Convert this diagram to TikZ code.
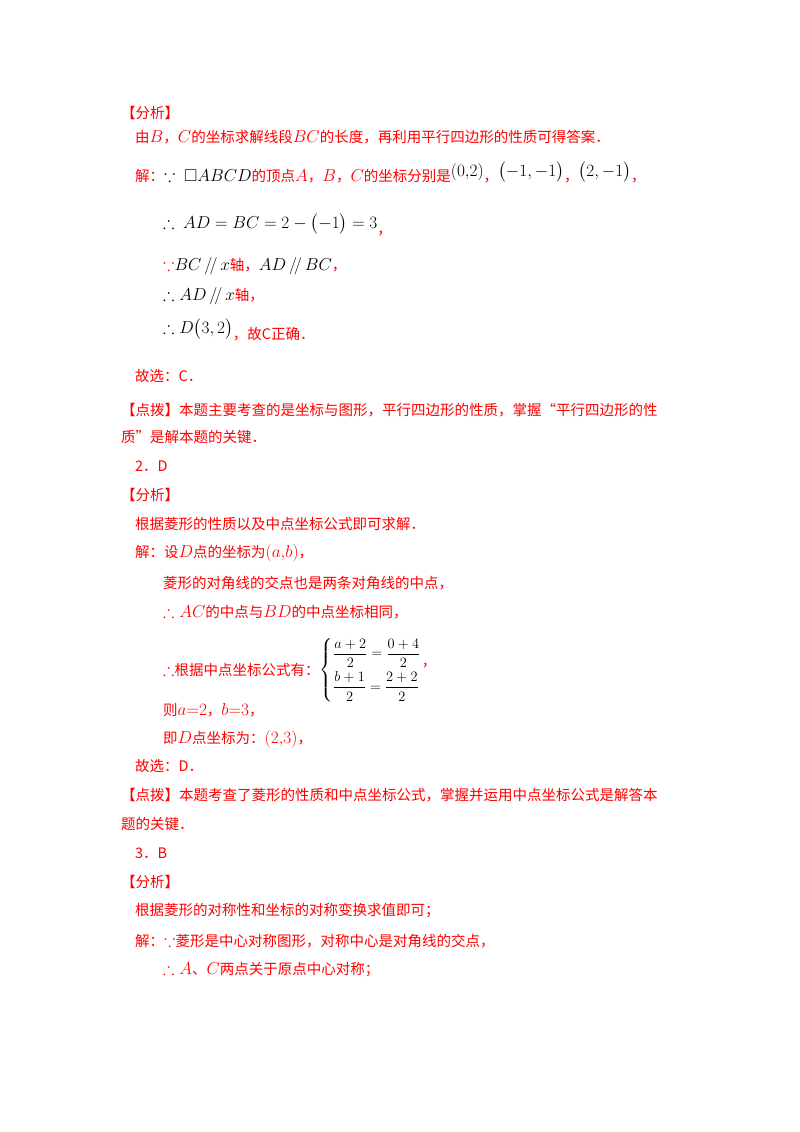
\documentclass[tikz,border=0pt]{standalone}
\usepackage{amsmath,amssymb}
\usepackage{fontspec}
\setmainfont{Noto Sans CJK SC}
\definecolor{rd}{RGB}{255,0,0}
\newcommand{\bk}[1]{\textcolor{black}{#1}}
\newcommand{\mm}[1]{{\fontsize{17}{17}\selectfont$#1$}}
\begin{document}
\begin{tikzpicture}[x=1pt,y=-1pt,
  ln/.style={anchor=west,inner sep=0pt,text=rd,font=\fontsize{14.5}{17}\selectfont}]
\useasboundingbox (0,0) rectangle (800,1132);
\node[ln] (l1) at (121,113) {【分析】};
\node[ln] (l2) at (135,137) {由\mm{B}，\mm{C}的坐标求解线段\mm{BC}的长度，再利用平行四边形的性质可得答案．};
\node[ln] (l3) at (135,172) {解：\bk{\mm{\because\ \square ABCD}}的顶点\mm{A}，\mm{B}，\mm{C}的坐标分别是\raisebox{5pt}{\bk{\mm{(0{,}2)}}}，\raisebox{5pt}{\bk{\mm{\bigl(-1,-1\bigr)}}}，\raisebox{5pt}{\bk{\mm{\bigl(2,-1\bigr)}}}，};
\node[ln] (l4) at (163,225) {\bk{\mm{\therefore\ AD=BC=2-\bigl(-1\bigr)=3}}\raisebox{-6pt}{，}};
\node[ln] (l5) at (163,266) {\mm{\because}\bk{\mm{BC\,/\!/\,x}}轴，\bk{\mm{AD\,/\!/\,BC}}，};
\node[ln] (l6) at (163,296) {\bk{\mm{\therefore AD\,/\!/\,x}}轴，};
\node[ln] (l7) at (163,330) {\bk{\mm{\therefore D\bigl(3,2\bigr)}}\raisebox{-6pt}{，故C正确．}};
\node[ln] (l8) at (135,376) {故选：C．};
\node[ln] (l9) at (121,410) {【点拨】本题主要考查的是坐标与图形，平行四边形的性质，掌握“平行四边形的性};
\node[ln] (l10) at (121,437) {质”是解本题的关键．};
\node[ln] (l11) at (135,466) {2．D};
\node[ln] (l12) at (121,495) {【分析】};
\node[ln] (l13) at (135,524) {根据菱形的性质以及中点坐标公式即可求解．};
\node[ln] (l14) at (135,553) {解：设\mm{D}点的坐标为\mm{(a{,}b)}，};
\node[ln] (l15) at (163,583) {菱形的对角线的交点也是两条对角线的中点，};
\node[ln] (l16) at (163,612) {\mm{\therefore AC}的中点与\mm{BD}的中点坐标相同，};
\node[ln] (l17) at (163,670) {\mm{\therefore}根据中点坐标公式有：};
\node[anchor=west,inner sep=0pt] (sys) at (l17.east) {\fontsize{15}{15}\selectfont$\left\{\begin{array}{@{}l@{}}\dfrac{a+2}{2}=\dfrac{0+4}{2}\\[9pt]\dfrac{b+1}{2}=\dfrac{2+2}{2}\end{array}\right.$};
\node[ln,anchor=west] (cm) at ([yshift=4pt]sys.east) {，};
\node[ln] (l18) at (163,710) {则\mm{a{=}2}，\mm{b{=}3}，};
\node[ln] (l19) at (163,739) {即\mm{D}点坐标为：\mm{(2{,}3)}，};
\node[ln] (l20) at (135,766) {故选：D．};
\node[ln] (l21) at (121,795) {【点拨】本题考查了菱形的性质和中点坐标公式，掌握并运用中点坐标公式是解答本};
\node[ln] (l22) at (121,824) {题的关键．};
\node[ln] (l23) at (135,853) {3．B};
\node[ln] (l24) at (121,882) {【分析】};
\node[ln] (l25) at (135,911) {根据菱形的对称性和坐标的对称变换求值即可；};
\node[ln] (l26) at (135,941) {解：\mm{\because}菱形是中心对称图形，对称中心是对角线的交点，};
\node[ln] (l27) at (163,970) {\mm{\therefore A}、\mm{C}两点关于原点中心对称；};
\end{tikzpicture}
\end{document}
